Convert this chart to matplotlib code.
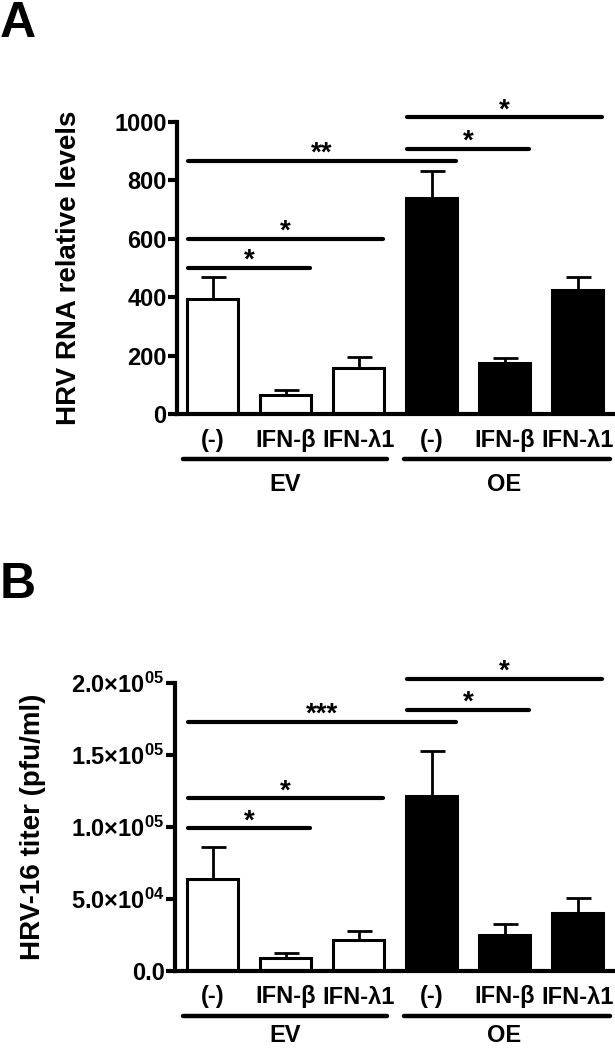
import numpy as np
import matplotlib.pyplot as plt
import matplotlib.transforms as mtransforms
from matplotlib.ticker import FuncFormatter

plt.rcParams['font.family'] = ['Liberation Sans', 'DejaVu Sans']
plt.rcParams['font.weight'] = 'bold'
plt.rcParams['mathtext.fontset'] = 'custom'
plt.rcParams['mathtext.bf'] = 'Liberation Sans:bold'
plt.rcParams['mathtext.rm'] = 'Liberation Sans:bold'

treatments = ['(-)', 'IFN-β', 'IFN-λ1', '(-)', 'IFN-β', 'IFN-λ1']
groups = ['EV', 'OE']
bar_colors = ['white'] * 3 + ['black'] * 3

# panel A: HRV RNA relative levels
rna_mean = [394, 64, 156, 740, 174, 426]
rna_err = [74, 17, 39, 91, 18, 44]
rna_sig = [(0, 1, 500, '*'), (0, 2, 600, '*'), (0, 3, 868, '**'),
           (3, 4, 908, '*'), (3, 5, 1016, '*')]
rna_ticks = [0, 200, 400, 600, 800, 1000]

# panel B: HRV-16 titer
titer_mean = [63700, 9300, 21500, 121700, 24800, 40100]
titer_err = [22500, 3500, 6500, 31300, 7600, 10400]
titer_sig = [(0, 1, 99000, '*'), (0, 2, 120000, '*'), (0, 3, 173000, '***'),
             (3, 4, 181500, '*'), (3, 5, 203000, '*')]
titer_ticks = [0, 50000, 100000, 150000, 200000]

fig = plt.figure(figsize=(6.15, 10.5), dpi=100)
W, H = 615.0, 1050.0
step = 73.0     # px between bars
first = 212.5   # px centre of first bar
fs = 17


def sci(v, pos):
    if v == 0:
        return '0.0'
    e = int(np.floor(np.log10(v)))
    return r'$\mathbf{%.1f{\times}10^{%02d}}$' % (v / 10 ** e, e)


def panel(left, top, bottom, means, errs, sigs, ticks, ylabel, ylab_x,
          fmt=None, grp_off=-70):
    right = 614
    ax = fig.add_axes([left / W, 1 - bottom / H, (right - left) / W, (bottom - top) / H])
    x = np.arange(len(means))
    ax.bar(x, means, width=0.685, color=bar_colors, edgecolor='black',
           linewidth=2.2, zorder=2)
    ax.errorbar(x, means, yerr=[np.zeros(len(errs)), errs], fmt='none',
                ecolor='black', elinewidth=2, capsize=9, capthick=2, zorder=1)
    x0 = -(first - left) / step
    ax.set_xlim(x0, x0 + (right - left) / step)
    ax.set_ylim(0, ticks[-1])
    ax.set_yticks(ticks)
    if fmt:
        ax.yaxis.set_major_formatter(FuncFormatter(fmt))
    ax.set_xticks([])
    for s in ['top', 'right']:
        ax.spines[s].set_visible(False)
    for s in ['left', 'bottom']:
        ax.spines[s].set_linewidth(3)
    ax.tick_params(axis='y', length=6.5, width=3, pad=1, labelsize=fs)

    for i, j, y, star in sigs:
        ax.plot([i - 0.34, j + 0.34], [y, y], color='black', lw=3,
                solid_capstyle='round', clip_on=False)
        ax.annotate(star, xy=((i + j) / 2, y), xytext=(0, 0),
                    textcoords='offset points', ha='center', va='baseline',
                    fontsize=20, annotation_clip=False)

    trans = mtransforms.blended_transform_factory(ax.transData, ax.transAxes)
    for k, lab in enumerate(treatments):
        ax.annotate(lab, xy=(k, 0), xycoords=trans, xytext=(0, -26),
                    textcoords='offset pixels', ha='center', va='center',
                    fontsize=fs, annotation_clip=False)
    tline = mtransforms.offset_copy(trans, fig=fig, y=-45, units='dots')
    for (a, b), g, c in zip([(-0.40, 2.39), (2.62, 5.45)], groups, [1, 4]):
        ax.plot([a, b], [0, 0], color='black', lw=3.2, solid_capstyle='round',
                transform=tline, clip_on=False)
        ax.annotate(g, xy=(c, 0), xycoords=trans, xytext=(0, grp_off),
                    textcoords='offset pixels', ha='center', va='center',
                    fontsize=fs, annotation_clip=False)
    fig.text(ylab_x / W, 1 - (top + bottom) / 2 / H, ylabel, rotation=90,
             ha='center', va='center', fontsize=20)
    return ax


panel(177, 122, 414, rna_mean, rna_err, rna_sig, rna_ticks,
      'HRV RNA relative levels', 69)
panel(175, 683, 971, titer_mean, titer_err, titer_sig, titer_ticks,
      'HRV-16 titer (pfu/ml)', 33, fmt=sci, grp_off=-65)

fig.text(0, 1 - 1 / H, 'A', fontsize=36, ha='left', va='top')
fig.text(0, 1 - 562 / H, 'B', fontsize=36, ha='left', va='top')

fig.savefig('out.png', dpi=100)
